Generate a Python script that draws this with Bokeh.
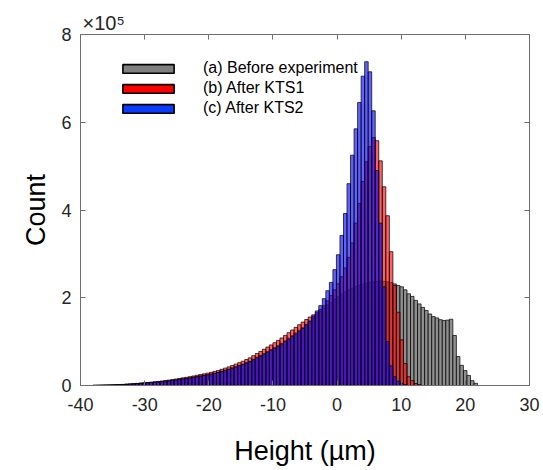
import numpy as np
from bokeh.plotting import figure
from bokeh.models import (ColumnDataSource, Legend, LegendItem, LinearAxis,
                          FixedTicker, Range1d, CustomJSTickFormatter)
from bokeh.embed import file_html
from bokeh.resources import INLINE

# ---------------- data (counts in units of 1e5) ----------------
first_edge = -38.05      # left edge of the first bin (µm)
bin_width = 0.55         # bin width (µm)

gray_counts = [
    0.004, 0.006, 0.007, 0.009, 0.011, 0.014, 0.016, 0.019, 0.022, 0.027,
    0.032, 0.037, 0.043, 0.049, 0.055, 0.062, 0.068, 0.075, 0.082, 0.090,
    0.098, 0.108, 0.118, 0.129, 0.141, 0.152, 0.163, 0.176, 0.190, 0.205,
    0.218, 0.232, 0.247, 0.262, 0.282, 0.303, 0.326, 0.350, 0.375, 0.402,
    0.430, 0.458, 0.488, 0.520, 0.553, 0.598, 0.645, 0.685, 0.730, 0.775,
    0.820, 0.865, 0.912, 0.962, 1.020, 1.080, 1.140, 1.200, 1.262, 1.325,
    1.390, 1.460, 1.535, 1.610, 1.690, 1.765, 1.835, 1.900, 1.965, 2.030,
    2.085, 2.135, 2.180, 2.220, 2.255, 2.285, 2.310, 2.330, 2.348, 2.362,
    2.372, 2.378, 2.375, 2.365, 2.345, 2.315, 2.280, 2.250, 2.180, 2.090,
    2.030, 1.940, 1.860, 1.780, 1.710, 1.630, 1.570, 1.540, 1.500, 1.480,
    1.490, 1.510, 1.140, 0.660, 0.460, 0.340, 0.230, 0.110, 0.050,
]

red_counts = [
    0.004, 0.006, 0.008, 0.010, 0.012, 0.015, 0.018, 0.021, 0.025, 0.030,
    0.036, 0.042, 0.048, 0.055, 0.062, 0.070, 0.077, 0.085, 0.093, 0.102,
    0.112, 0.123, 0.135, 0.148, 0.161, 0.174, 0.187, 0.201, 0.217, 0.234,
    0.249, 0.265, 0.282, 0.300, 0.321, 0.344, 0.369, 0.396, 0.424, 0.455,
    0.487, 0.520, 0.554, 0.591, 0.630, 0.680, 0.730, 0.776, 0.826, 0.876,
    0.925, 0.975, 1.028, 1.083, 1.142, 1.204, 1.265, 1.325, 1.385, 1.445,
    1.505, 1.560, 1.610, 1.660, 1.730, 1.820, 1.930, 2.050, 2.180, 2.320,
    2.480, 2.680, 2.920, 3.250, 3.700, 4.150, 4.650, 5.100, 5.450, 5.650,
    5.580, 5.120, 4.530, 3.870, 3.050, 2.280, 1.670, 1.040, 0.500, 0.200,
    0.110, 0.045, 0.020,
]

blue_counts = [
    0.004, 0.005, 0.007, 0.009, 0.011, 0.013, 0.016, 0.018, 0.022, 0.026,
    0.031, 0.036, 0.042, 0.048, 0.054, 0.060, 0.067, 0.073, 0.080, 0.088,
    0.096, 0.105, 0.115, 0.126, 0.138, 0.149, 0.160, 0.172, 0.186, 0.200,
    0.213, 0.227, 0.242, 0.257, 0.276, 0.297, 0.319, 0.343, 0.367, 0.394,
    0.421, 0.449, 0.478, 0.510, 0.542, 0.586, 0.632, 0.672, 0.716, 0.760,
    0.804, 0.848, 0.894, 0.943, 1.000, 1.058, 1.117, 1.176, 1.238, 1.300,
    1.380, 1.470, 1.580, 1.700, 1.820, 1.980, 2.160, 2.350, 2.640, 2.980,
    3.420, 3.920, 4.600, 5.250, 5.850, 6.450, 7.050, 7.380, 7.150, 6.260,
    4.900, 3.700, 2.250, 1.000, 0.450, 0.200, 0.100, 0.050, 0.020,
]

series_labels = ["(a) Before experiment", "(b) After KTS1", "(c) After KTS2"]
series_colors = ["#808080", "#ff0000", "#0000ff"]
legend_colors = ["#808080", "#ff0000", "#0a3cff"]
series_alpha = [0.88, 0.62, 0.62]

x_ticks = [-40, -30, -20, -10, 0, 10, 20, 30]
y_ticks = [0, 2, 4, 6, 8]
x_label = "Height (µm)"
y_label = "Count"
exponent_text = "×10⁵"

FONT = "Liberation Sans"

# ---------------- figure ----------------
p = figure(width=543, height=470, x_range=Range1d(-40, 30), y_range=Range1d(0, 8),
           output_backend="svg", toolbar_location=None,
           min_border_left=80, min_border_right=14, min_border_top=34,
           min_border_bottom=85, title=exponent_text)
p.xgrid.visible = False
p.ygrid.visible = False
p.outline_line_color = "#6e6e6e"
p.outline_line_width = 1
p.background_fill_color = "white"
p.border_fill_color = "white"

p.title.align = "left"
p.title.offset = 2
p.title.standoff = 1
p.title.text_font = FONT
p.title.text_font_size = "20px"
p.title.text_font_style = "normal"
p.title.text_color = "#262626"


def style_axis(ax, ticks, show_labels):
    ax.ticker = FixedTicker(ticks=ticks)
    ax.minor_tick_line_color = None
    ax.major_tick_in = 5
    ax.major_tick_out = 0
    ax.major_tick_line_color = "#6e6e6e"
    ax.axis_line_color = "#6e6e6e"
    if show_labels:
        ax.major_label_text_font = FONT
        ax.major_label_text_font_size = "18px"
        ax.major_label_text_color = "#262626"
        ax.major_label_overrides = {t: str(t) for t in ticks}
    else:
        ax.formatter = CustomJSTickFormatter(code="return ''")
        ax.major_label_standoff = 0


style_axis(p.xaxis[0], x_ticks, True)
style_axis(p.yaxis[0], y_ticks, True)
p.xaxis.major_label_standoff = 12
p.yaxis.major_label_standoff = 9
p.xaxis.axis_label = x_label
p.yaxis.axis_label = y_label
for ax in (p.xaxis[0], p.yaxis[0]):
    ax.axis_label_text_font = FONT
    ax.axis_label_text_font_size = "27px"
    ax.axis_label_text_font_style = "normal"
    ax.axis_label_text_color = "black"
p.xaxis.axis_label_standoff = 22
p.yaxis.axis_label_standoff = 7

top_ax = LinearAxis()
style_axis(top_ax, x_ticks, False)
p.add_layout(top_ax, "above")
right_ax = LinearAxis()
style_axis(right_ax, y_ticks, False)
p.add_layout(right_ax, "right")

# ---------------- histograms ----------------
for counts, color, alpha in zip([gray_counts, red_counts, blue_counts],
                                series_colors, series_alpha):
    c = np.asarray(counts, dtype=float)
    left = first_edge + bin_width * np.arange(len(c))
    keep = c > 0
    src = ColumnDataSource(dict(left=left[keep], right=left[keep] + bin_width,
                                top=c[keep]))
    p.quad(left="left", right="right", top="top", bottom=0, source=src,
           fill_color=color, fill_alpha=alpha,
           line_color="black", line_width=0.8, line_alpha=0.9)

# ---------------- legend (opaque swatches) ----------------
items = []
for lab, color in zip(series_labels, legend_colors):
    dsrc = ColumnDataSource(dict(l=[np.nan], r=[np.nan], t=[np.nan], b=[np.nan]))
    r = p.quad(left="l", right="r", top="t", bottom="b", source=dsrc,
               fill_color=color, fill_alpha=1.0, line_color="black", line_width=1.6)
    items.append(LegendItem(label=lab, renderers=[r]))

legend = Legend(items=items, location=(36, 268), glyph_width=64, glyph_height=11,
                label_height=11, label_standoff=23, spacing=2, padding=0, margin=0,
                label_text_font=FONT, label_text_font_size="16px",
                label_text_color="black",
                background_fill_alpha=0, border_line_alpha=0)
p.add_layout(legend)

open("out.html", "w").write(file_html(p, INLINE))
